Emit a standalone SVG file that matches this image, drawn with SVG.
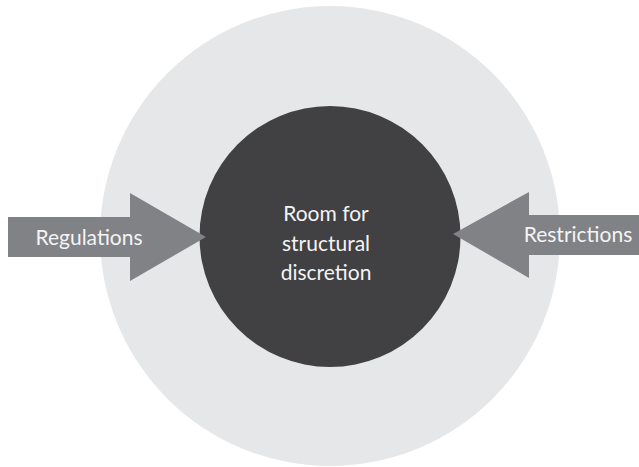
<svg xmlns="http://www.w3.org/2000/svg" width="639" height="467" viewBox="0 0 639 467">
<style>
.lbl{font-family:Lato,"Liberation Sans",sans-serif;font-size:21px;fill:#f4f4f5;text-anchor:middle}
.arrow{fill:#808285}
</style>
<rect width="639" height="467" fill="#ffffff"/>
<g id="outer"><circle cx="330" cy="236" r="230" fill="#e6e7e8"/></g>
<g id="inner">
<circle cx="330" cy="236.5" r="130.5" fill="#414042"/>
<text class="lbl"><tspan x="326" y="221">Room for</tspan><tspan x="326" y="251">structural</tspan><tspan x="326" y="280">discretion</tspan></text>
</g>
<g id="connectors">
<g id="regulations">
<polygon class="arrow" points="8,217 130,217 130,193 206,237 130,281 130,257 8,257"/>
<text class="lbl" x="89" y="245">Regulations</text>
</g>
<g id="restrictions">
<polygon class="arrow" points="639,215 529,215 529,192 453,234 529,278 529,255 639,255"/>
<text class="lbl" x="578" y="242">Restrictions</text>
</g>
</g>
</svg>
